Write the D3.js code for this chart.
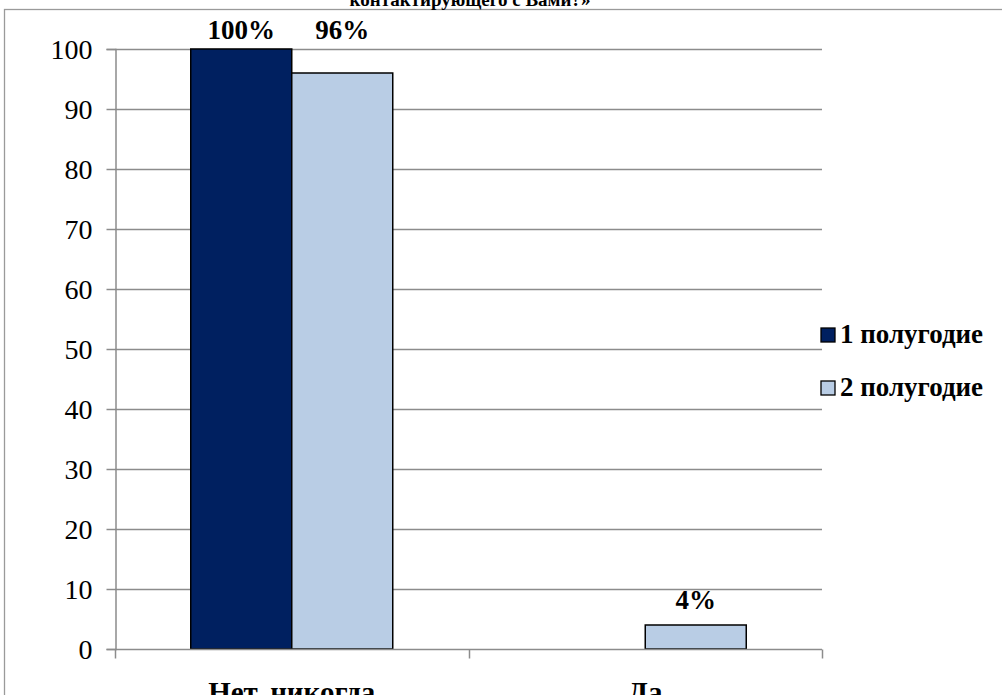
<!DOCTYPE html>
<html>
<head>
<meta charset="utf-8">
<script src="https://cdn.jsdelivr.net/npm/d3@7"></script>
<style>
  body { margin: 0; background: #fff; }
</style>
</head>
<body>
<script>
var categories = ["Нет, никогда", "Да"];
var seriesNames = ["1 полугодие", "2 полугодие"];
var series1 = [100, 0];
var series2 = [96, 4];
var labels1 = ["100%", null];
var labels2 = ["96%", "4%"];
var yTicks = [0, 10, 20, 30, 40, 50, 60, 70, 80, 90, 100];
var colors = ["#002060", "#B9CDE5"];

var width = 1002, height = 695;
var plotLeft = 115, plotRight = 822, plotTop = 49, plotBottom = 649;
var serif = "Liberation Serif";

var svg = d3.select("body").append("svg")
    .attr("width", width)
    .attr("height", height);

// outer chart border (cut off at right / bottom)
svg.append("rect")
    .attr("x", 4.5).attr("y", 9.5)
    .attr("width", 1100).attr("height", 800)
    .attr("fill", "none")
    .attr("stroke", "#9a9a9a")
    .attr("stroke-width", 1.3);

// title, mostly cut off at the top
svg.append("text")
    .attr("x", 470).attr("y", 6)
    .attr("text-anchor", "middle")
    .attr("font-family", serif)
    .attr("font-weight", "bold")
    .attr("font-size", 19)
    .text("контактирующего с Вами?»");

var x0 = d3.scaleBand()
    .domain(categories)
    .range([plotLeft, plotRight]);

var y = d3.scaleLinear()
    .domain([0, 100])
    .range([plotBottom, plotTop]);

var barW = x0.bandwidth() / 3.5;

// gridlines
svg.append("g")
    .selectAll("line")
    .data(yTicks.slice(1))
    .enter().append("line")
    .attr("x1", plotLeft).attr("x2", plotRight)
    .attr("y1", d => Math.round(y(d)) + 0.5)
    .attr("y2", d => Math.round(y(d)) + 0.5)
    .attr("stroke", "#8c8c8c")
    .attr("stroke-width", 1.5);

// y axis
var yAxis = svg.append("g")
    .attr("transform", "translate(" + (plotLeft + 0.5) + ",0)")
    .call(d3.axisLeft(y).tickValues(yTicks).tickSize(9).tickPadding(14));
yAxis.attr("font-family", serif);
yAxis.select(".domain").attr("stroke", "#8c8c8c").attr("stroke-width", 1.5);
yAxis.selectAll(".tick line").attr("stroke", "#8c8c8c").attr("stroke-width", 1.5);
yAxis.selectAll(".tick text")
    .attr("font-size", 28)
    .attr("font-family", serif)
    .attr("dy", "0.34em")
    .attr("fill", "#000");

var rows = categories.map(function (c, i) {
    return { cat: c, vals: [series1[i], series2[i]], labs: [labels1[i], labels2[i]] };
});

svg.selectAll(".grp")
    .data(rows)
    .enter().append("g")
    .attr("class", "grp")
    .each(function (d) {
        var g = d3.select(this);
        var cx = x0(d.cat) + x0.bandwidth() / 2;
        d.vals.forEach(function (v, k) {
            var bx = cx - barW + k * barW;
            if (v > 0) {
                g.append("rect")
                    .attr("x", bx)
                    .attr("y", y(v))
                    .attr("width", barW)
                    .attr("height", y(0) - y(v))
                    .attr("fill", colors[k])
                    .attr("stroke", "#000")
                    .attr("stroke-width", 1.5);
            }
            if (d.labs[k]) {
                // labels near the top are pushed up to sit above the plot
                var ly = v > 90 ? y(100) - 10 : y(v) - 16;
                g.append("text")
                    .attr("x", bx + barW / 2)
                    .attr("y", ly)
                    .attr("text-anchor", "middle")
                    .attr("font-family", serif)
                    .attr("font-weight", "bold")
                    .attr("font-size", 27)
                    .text(d.labs[k]);
            }
        });
    });

// x axis
var xAxis = svg.append("g")
    .attr("transform", "translate(0," + (plotBottom + 0.5) + ")");
xAxis.append("line")
    .attr("x1", plotLeft).attr("x2", plotRight)
    .attr("stroke", "#8c8c8c").attr("stroke-width", 1.5);
xAxis.selectAll(".xt")
    .data([0, 1, 2])
    .enter().append("line")
    .attr("x1", i => Math.round(plotLeft + i * x0.bandwidth()) + 0.5)
    .attr("x2", i => Math.round(plotLeft + i * x0.bandwidth()) + 0.5)
    .attr("y1", 0).attr("y2", 9)
    .attr("stroke", "#8c8c8c").attr("stroke-width", 1.5);
xAxis.selectAll(".xl")
    .data(categories)
    .enter().append("text")
    .attr("x", d => x0(d) + x0.bandwidth() / 2)
    .attr("y", 52)
    .attr("text-anchor", "middle")
    .attr("font-family", serif)
    .attr("font-weight", "bold")
    .attr("font-size", 29)
    .text(d => d);

// legend
var legend = svg.selectAll(".leg")
    .data(seriesNames)
    .enter().append("g")
    .attr("transform", (d, i) => "translate(821," + (328 + i * 53) + ")");
legend.append("rect")
    .attr("width", 14).attr("height", 14)
    .attr("fill", (d, i) => colors[i])
    .attr("stroke", "#000")
    .attr("stroke-width", 1.3);
legend.append("text")
    .attr("x", 19).attr("y", 15)
    .attr("font-family", serif)
    .attr("font-weight", "bold")
    .attr("font-size", 27)
    .text(d => d);
</script>
</body>
</html>
